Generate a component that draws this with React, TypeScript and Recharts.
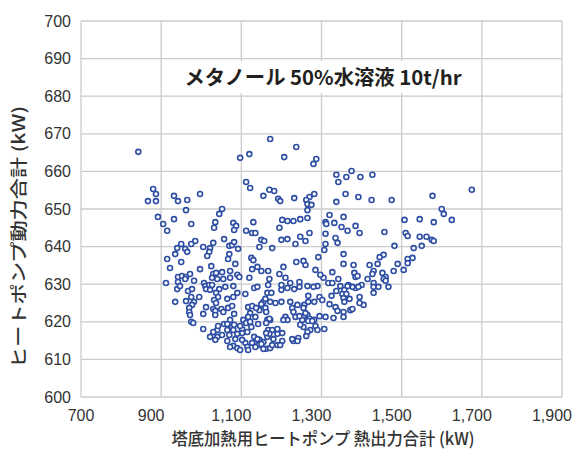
import { ScatterChart, Scatter, XAxis, YAxis, CartesianGrid, Customized } from 'recharts';

const chartTitle = 'メタノール 50%水溶液 10t/hr';
const xAxisTitle = '塔底加熱用ヒートポンプ 熱出力合計 (kW)';
const yAxisTitle = 'ヒートポンプ動力合計 (kW)';

const xTicks = [700, 900, 1100, 1300, 1500, 1700, 1900];
const yTicks = [600, 610, 620, 630, 640, 650, 660, 670, 680, 690, 700];

// [熱出力合計 kW, 動力合計 kW]
const samples: [number, number][] = [
  [843, 665.2], [1172, 668.6], [1237, 666.5], [1207, 663.8], [1097, 663.6], [1120, 664.6], [1280, 662.0], [1287, 663.3],
  [1337, 659.1], [1342, 657.2], [1362, 658.5], [1375, 660.1], [1397, 658.5], [1427, 659.1], [1360, 654.0], [1577, 653.5],
  [1675, 655.1], [880, 655.3], [887, 654.0], [867, 652.1], [887, 652.1], [932, 653.5], [942, 652.1], [965, 652.4],
  [997, 654.0], [1112, 657.2], [1122, 655.6], [1155, 653.5], [1170, 655.1], [1182, 654.8], [1192, 652.7], [1197, 652.1],
  [1232, 652.9], [1270, 653.2], [1282, 654.0], [1262, 652.4], [1265, 651.3], [1275, 651.1], [1265, 649.7], [1392, 653.2],
  [1425, 652.4], [1475, 652.4], [1337, 651.9], [962, 649.7], [1052, 650.0], [1045, 648.7], [1600, 650.0],
  [892, 647.9], [905, 646.0], [915, 644.2], [932, 647.3], [975, 646.0], [1035, 646.5], [1032, 645.0], [1080, 646.3],
  [1087, 645.5], [1082, 644.4], [1112, 644.2], [1127, 643.6], [1135, 643.6], [1130, 646.5], [1202, 647.1], [1215, 646.8],
  [1230, 646.8], [1247, 647.3], [1265, 647.6], [1195, 645.0], [1270, 643.6], [1247, 642.6], [1260, 641.5], [1235, 640.7],
  [1215, 642.0], [1200, 641.8], [1177, 639.6], [1150, 641.8], [1157, 641.5], [1145, 639.9], [1320, 648.4], [1355, 647.9],
  [1310, 646.5], [1312, 646.0], [1332, 646.3], [1350, 645.2], [1365, 644.2], [1385, 645.5], [1395, 643.6], [1310, 643.4],
  [1335, 642.3], [1340, 641.0], [1457, 643.9], [1507, 647.1], [1545, 647.3], [1580, 646.5], [1605, 648.7], [1625, 647.1],
  [1510, 643.6], [1515, 642.8], [1545, 642.6], [1562, 642.6], [1575, 641.8], [1580, 641.5], [1550, 640.2], [1530, 639.6],
  [1482, 640.2], [1057, 642.0], [1030, 641.0], [985, 641.5], [975, 640.7], [950, 640.7], [940, 639.6], [960, 639.4],
  [1005, 639.9], [1022, 639.6], [1070, 640.2], [1077, 640.4], [1082, 641.2], [1092, 639.4], [1067, 636.7], [1070, 638.0],
  [1085, 635.4], [1125, 637.0], [1127, 634.0], [915, 636.7], [922, 634.3], [950, 635.9], [965, 638.6], [1310, 640.7],
  [1292, 637.2], [1355, 638.0], [1130, 636.4], [1455, 637.8], [1445, 637.2], [1527, 637.0], [1515, 636.7],
  [1440, 635.4], [1515, 635.6], [1505, 633.8], [1490, 635.4], [1480, 633.5], [1430, 633.5], [1427, 632.7], [1420, 635.1],
  [1415, 631.4], [1452, 633.0], [1460, 631.9], [1455, 631.4], [1460, 630.9], [1430, 630.3], [1430, 629.3], [1442, 629.3],
  [1467, 629.3], [1430, 627.7], [1400, 629.8], [1395, 626.6], [1405, 624.5], [1395, 625.0], [1385, 629.0], [1377, 629.3],
  [1367, 629.8], [1355, 635.4], [1380, 635.1], [1382, 633.0], [1385, 631.9], [1342, 631.4], [1327, 633.2], [1317, 630.3],
  [1327, 630.3], [1347, 629.5], [1357, 628.5], [1352, 627.4], [1362, 627.4], [1355, 626.3], [1357, 625.3], [1370, 626.1],
  [1325, 626.9], [1320, 624.7], [1335, 623.9], [1340, 622.9], [1355, 622.6], [1372, 623.1], [1377, 623.4], [1355, 621.3],
  [1330, 621.0], [1310, 621.3], [1295, 621.5], [1307, 618.1], [1295, 626.6], [1302, 625.8], [1282, 625.3], [1267, 626.9],
  [1257, 624.5], [1290, 629.5], [1305, 631.7], [1285, 633.8], [1260, 635.1], [1255, 636.2], [1265, 629.5], [1265, 621.8],
  [1255, 621.3], [1270, 620.8], [1282, 620.5], [1285, 618.9], [1290, 617.8], [1272, 617.8], [1265, 617.3], [1262, 616.2],
  [1255, 618.6], [1390, 632.2], [1365, 629.5], [1392, 629.3], [1337, 628.2], [1237, 635.9], [1205, 634.6], [1167, 633.5],
  [1140, 634.6], [1245, 630.6], [1222, 630.3], [1215, 629.0], [1210, 631.7], [1195, 632.7], [1170, 631.4], [1132, 629.0],
  [1165, 627.7], [1175, 627.7], [1155, 625.3], [1150, 624.7], [1160, 623.7], [1145, 623.1], [1172, 625.3], [1185, 625.0],
  [1200, 625.3], [1222, 625.3], [1227, 623.7], [1240, 624.5], [1230, 622.6], [1210, 621.3], [1215, 620.5], [1235, 621.3],
  [1255, 623.7], [1260, 622.3], [1252, 620.5], [1267, 620.2], [1277, 620.2], [1242, 615.7], [1230, 614.9], [1240, 614.9],
  [1202, 614.9], [1180, 615.4], [1190, 616.8], [1167, 617.8], [1177, 617.8], [1172, 620.5], [1165, 620.5], [1135, 621.3],
  [1125, 618.6], [1132, 616.0], [1145, 615.2], [1155, 614.6], [1165, 616.0], [1162, 612.8], [1155, 612.8], [1172, 613.0],
  [1190, 613.8], [1142, 613.8], [1135, 613.3], [1267, 625.3],
  [912, 630.3], [942, 631.9], [952, 632.2], [962, 631.9], [972, 632.7], [960, 631.4], [942, 630.6], [940, 628.7],
  [947, 629.5], [935, 625.3], [967, 628.2], [977, 628.7], [982, 630.9], [975, 626.6], [962, 625.5], [982, 625.3],
  [977, 624.5], [970, 623.7], [970, 622.6], [972, 621.8], [975, 620.0], [980, 619.7], [997, 634.0], [1007, 630.3],
  [1010, 629.5], [1020, 629.8], [1027, 629.8], [1030, 632.7], [1027, 631.7], [1025, 634.8], [1037, 633.0], [1040, 631.4],
  [1055, 631.4], [1052, 633.2], [1072, 633.5], [1072, 631.7], [1090, 632.5], [1095, 631.9], [1060, 629.3], [1045, 628.7],
  [1037, 627.7], [1042, 626.6], [1032, 625.8], [1037, 625.0], [1012, 623.9], [1005, 622.1], [1030, 623.4], [1035, 622.9],
  [1050, 623.4], [1055, 622.6], [1040, 617.8], [1042, 618.9], [1030, 617.3], [1022, 616.0], [1040, 616.0], [1035, 615.2],
  [1052, 616.5], [1065, 617.8], [1077, 618.6], [1080, 617.8], [1072, 620.5], [1082, 622.1], [1067, 623.7], [1065, 626.1],
  [1080, 626.6], [1090, 627.7], [1080, 629.5], [1102, 618.1], [1105, 620.5], [1112, 619.7], [1110, 627.4], [1117, 623.9],
  [1102, 617.0], [1090, 616.8], [1085, 615.4], [1080, 613.6], [1072, 613.3], [1090, 613.0], [1097, 612.5], [1110, 614.4],
  [1115, 613.3], [1117, 612.5], [1102, 615.2], [1057, 619.4], [1005, 618.1], [1070, 616.5], [1122, 622.3], [1127, 624.2],
  [1137, 623.7], [1162, 622.6], [1170, 620.8], [1162, 619.7], [1142, 619.4], [1122, 620.0], [1170, 616.8], [1177, 613.8],
  [1150, 614.1], [1140, 615.4], [1115, 617.3], [1082, 619.2], [1097, 618.9], [1197, 613.8], [1202, 617.0], [1190, 618.1],
  [1205, 620.5], [1245, 621.5], [1280, 629.3], [1297, 632.5], [1120, 631.7], [1150, 633.5], [1140, 629.3], [1200, 628.5],
  [1227, 615.4], [1127, 614.4], [1077, 624.2], [1035, 621.8], [935, 638.0], [1020, 638.6], [1015, 637.5], [1065, 614.9],
  [995, 626.6], [1012, 628.7], [1022, 628.5], [1065, 619.4], [1117, 621.3], [1160, 626.1], [1162, 617.0], [1247, 619.2],
  [1232, 628.7], [1245, 629.3], [1167, 629.8], [1200, 629.8], [1307, 639.1],
];

const data = samples.map(([x, y]) => ({ x, y }));

const FONT = '"Liberation Sans", Arial, sans-serif';
const JP_FONT = '"Noto Sans CJK JP", "Liberation Sans", sans-serif';

const Dot = (props: any) => {
  const { cx, cy } = props;
  if (cx == null || cy == null) return null;
  return <circle cx={cx} cy={cy} r={2.5} fill="#ffffff" stroke="#2d4ea3" strokeWidth={1.6} />;
};

const XTick = (props: any) => {
  const { x, y, payload, index } = props;
  return (
    <text
      x={x}
      y={y}
      dx={index === 0 ? 0 : -10}
      dy="0.71em"
      textAnchor="middle"
      fill="#333"
      fontSize={16}
      fontFamily={FONT}
    >
      {Number(payload.value).toLocaleString('en-US')}
    </text>
  );
};

const Titles = () => (
  <g>
    <rect x={180} y={61} width={290} height={32} fill="#ffffff" />
    <text
      x={323}
      y={85}
      textAnchor="middle"
      fontSize={20}
      fontWeight="bold"
      fill="#231f20"
      fontFamily={JP_FONT}
      textLength={277}
      lengthAdjust="spacingAndGlyphs"
    >
      {chartTitle}
    </text>
    <text
      x={323}
      y={445}
      textAnchor="middle"
      fontSize={17}
      fontWeight={500}
      fill="#333"
      fontFamily={JP_FONT}
      textLength={303}
      lengthAdjust="spacingAndGlyphs"
    >
      {xAxisTitle}
    </text>
    <text
      x={17}
      y={237}
      textAnchor="middle"
      dominantBaseline="central"
      fontSize={17}
      fontWeight={500}
      fill="#333"
      fontFamily={JP_FONT}
      textLength={262}
      lengthAdjust="spacingAndGlyphs"
      transform="rotate(-90 17 237)"
    >
      {yAxisTitle}
    </text>
  </g>
);

export default function App() {
  return (
    <div style={{ position: 'absolute', left: 0, top: 0, width: 582, height: 450, background: '#fff' }}>
      <ScatterChart width={582} height={450} margin={{ top: 21, right: 20, bottom: 23, left: 0 }}>
        <CartesianGrid stroke="#cbcbcb" strokeWidth={1.3} />
        <XAxis
          type="number"
          dataKey="x"
          domain={[700, 1900]}
          ticks={xTicks}
          interval={0}
          height={30}
          axisLine={false}
          tickLine={false}
          tickMargin={7}
          tick={<XTick />}
        />
        <YAxis
          type="number"
          dataKey="y"
          domain={[600, 700]}
          ticks={yTicks}
          interval={0}
          width={81}
          axisLine={false}
          tickLine={false}
          tickMargin={4}
          tick={{ fill: '#333', fontSize: 16, fontFamily: FONT }}
        />
        <Scatter data={data} shape={<Dot />} isAnimationActive={false} />
        <Customized component={Titles} />
      </ScatterChart>
    </div>
  );
}
